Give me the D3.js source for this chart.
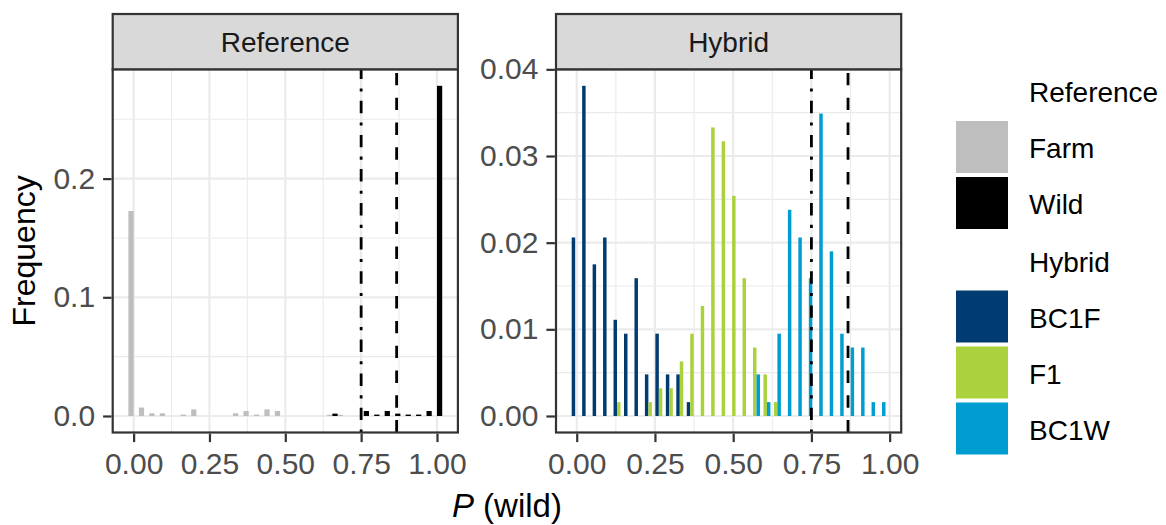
<!DOCTYPE html>
<html>
<head>
<meta charset="utf-8">
<script src="https://cdn.jsdelivr.net/npm/d3@7"></script>
<style>
  html, body { margin: 0; padding: 0; background: #fff; }
  svg { display: block; font-family: "Liberation Sans", Arial, sans-serif; }
</style>
</head>
<body>
<svg id="chart" width="1166" height="525"></svg>
<script>
// ---------------- DATA ----------------
const panels = ["Reference", "Hybrid"];
const xTicks = [0, 0.25, 0.5, 0.75, 1.0];
const xTickLabels = ["0.00", "0.25", "0.50", "0.75", "1.00"];
const refYTicks = [0, 0.1, 0.2];
const refYTickLabels = ["0.0", "0.1", "0.2"];
const hybYTicks = [0, 0.01, 0.02, 0.03, 0.04];
const hybYTickLabels = ["0.00", "0.01", "0.02", "0.03", "0.04"];

// bin centres (P(wild)) for each panel
const refBins = [0.0000, 0.0345, 0.0690, 0.1034, 0.1379, 0.1724, 0.2069, 0.2414, 0.2759, 0.3103,
                 0.3448, 0.3793, 0.4138, 0.4483, 0.4828, 0.5172, 0.5517, 0.5862, 0.6207, 0.6552,
                 0.6897, 0.7241, 0.7586, 0.7931, 0.8276, 0.8621, 0.8966, 0.9310, 0.9655, 1.0000];
const hybBins = [0.0006, 0.0340, 0.0675, 0.1009, 0.1343, 0.1678, 0.2012, 0.2346, 0.2680, 0.3015,
                 0.3349, 0.3683, 0.4018, 0.4352, 0.4686, 0.5021, 0.5355, 0.5689, 0.6023, 0.6358,
                 0.6692, 0.7026, 0.7361, 0.7695, 0.8029, 0.8364, 0.8698, 0.9032, 0.9366, 0.9701];

// Reference series (frequency per bin)
const farmFreq = [0.1727, 0.0071, 0.0023, 0.0023, 0, 0.0012, 0.0056, 0, 0, 0,
                  0.0023, 0.0042, 0.0012, 0.0056, 0.0042, 0, 0, 0, 0, 0.0010,
                  0.0010, 0, 0, 0, 0, 0, 0, 0, 0, 0];
const wildFreq = [0, 0, 0, 0, 0, 0, 0, 0, 0, 0,
                  0, 0, 0, 0, 0, 0, 0, 0, 0, 0.0020,
                  0, 0, 0.0042, 0.0012, 0.0042, 0.0020, 0.0012, 0.0012, 0.0042, 0.2782];
// Hybrid series
const bc1fFreq = [0.0206, 0.0381, 0.0175, 0.0206, 0.0111, 0.0095, 0.0159, 0.0048, 0.0095, 0.0048,
                  0.0048, 0.0016, 0, 0, 0, 0, 0, 0, 0, 0,
                  0, 0, 0, 0, 0, 0, 0, 0, 0, 0];
const f1Freq   = [0, 0, 0, 0, 0.0016, 0, 0, 0.0016, 0.0032, 0.0032,
                  0.0063, 0.0095, 0.0127, 0.0333, 0.0317, 0.0254, 0.0159, 0.0079, 0.0048, 0.0016,
                  0, 0, 0, 0, 0, 0, 0, 0, 0, 0];
const bc1wFreq = [0, 0, 0, 0, 0, 0, 0, 0, 0, 0,
                  0, 0, 0, 0, 0, 0, 0, 0.0048, 0.0016, 0.0095,
                  0.0238, 0.0206, 0.0159, 0.0349, 0.0190, 0.0095, 0.0079, 0.0079, 0.0016, 0.0016];

const refSeries = ["Farm", "Wild"];
const hybSeries = ["BC1F", "F1", "BC1W"];
const seriesColors = { Farm: "#BEBEBE", Wild: "#000000", BC1F: "#003C71", F1: "#ABD13D", BC1W: "#009DD1" };

// threshold lines
const thresholds = [0.75, 0.867];
const thresholdTypes = ["dotdash", "dashed"];

const xTitle = "P";
const yTitle = "Frequency";

// ---------------- LAYOUT ----------------
const svg = d3.select("#chart");
const panelTop = 69.3, panelBottom = 432.5;
const stripTop = 14;
const panelX = [[112.7, 457.9], [556.0, 901.2]];
const FONT_TICK = 30, FONT_STRIP = 28, FONT_TITLE = 32, FONT_LEG = 28;
const LW = 2.2;

const panelDefs = [
  { name: panels[0], bins: refBins, series: refSeries, freqs: [farmFreq, wildFreq],
    yTicks: refYTicks, yLabels: refYTickLabels, yMinor: [0.05, 0.15, 0.25] },
  { name: panels[1], bins: hybBins, series: hybSeries, freqs: [bc1fFreq, f1Freq, bc1wFreq],
    yTicks: hybYTicks, yLabels: hybYTickLabels, yMinor: [0.005, 0.015, 0.025, 0.035] }
];
const xMinor = [0.125, 0.375, 0.625, 0.875];

panelDefs.forEach((p, pi) => {
  const [x0, x1] = panelX[pi];
  const bw = p.bins[1] - p.bins[0];
  const lo = d3.min(p.bins) - bw / 2, hi = d3.max(p.bins) + bw / 2;
  const ex = (hi - lo) * 0.05;
  const x = d3.scaleLinear().domain([lo - ex, hi + ex]).range([x0, x1]);
  const ymax = d3.max(p.freqs.flat());
  const y = d3.scaleLinear().domain([-0.05 * ymax, 1.05 * ymax]).range([panelBottom, panelTop]);

  const g = svg.append("g");
  // background
  g.append("rect").attr("x", x0).attr("y", panelTop).attr("width", x1 - x0)
    .attr("height", panelBottom - panelTop).attr("fill", "#fff");
  // minor grid
  g.selectAll(".gxm").data(xMinor).join("line")
    .attr("x1", d => x(d)).attr("x2", d => x(d)).attr("y1", panelTop).attr("y2", panelBottom)
    .attr("stroke", "#EBEBEB").attr("stroke-width", LW / 2);
  g.selectAll(".gym").data(p.yMinor.filter(v => v < y.domain()[1])).join("line")
    .attr("x1", x0).attr("x2", x1).attr("y1", d => y(d)).attr("y2", d => y(d))
    .attr("stroke", "#EBEBEB").attr("stroke-width", LW / 2);
  // major grid
  g.selectAll(".gx").data(xTicks).join("line")
    .attr("x1", d => x(d)).attr("x2", d => x(d)).attr("y1", panelTop).attr("y2", panelBottom)
    .attr("stroke", "#EBEBEB").attr("stroke-width", LW);
  g.selectAll(".gy").data(p.yTicks).join("line")
    .attr("x1", x0).attr("x2", x1).attr("y1", d => y(d)).attr("y2", d => y(d))
    .attr("stroke", "#EBEBEB").attr("stroke-width", LW);

  // bars (dodged within each bin)
  const n = p.series.length;
  const slot = bw / n;
  const rects = [];
  p.series.forEach((s, si) => {
    p.freqs[si].forEach((v, k) => {
      if (v > 0) rects.push({ s, v, left: p.bins[k] - bw / 2 + si * slot });
    });
  });
  g.selectAll(".bar").data(rects).join("rect")
    .attr("x", d => x(d.left)).attr("width", d => x(d.left + slot) - x(d.left))
    .attr("y", d => y(d.v)).attr("height", d => y(0) - y(d.v))
    .attr("fill", d => seriesColors[d.s]);

  // threshold lines
  const dashes = { dotdash: "3.1,9.3,12.4,9.3", dashed: "12.4,12.4" };
  thresholds.forEach((t, ti) => {
    g.append("line").attr("x1", x(t)).attr("x2", x(t)).attr("y1", panelBottom).attr("y2", panelTop)
      .attr("stroke", "#000").attr("stroke-width", 2.8)
      .attr("stroke-dasharray", dashes[thresholdTypes[ti]]);
  });

  // border
  g.append("rect").attr("x", x0).attr("y", panelTop).attr("width", x1 - x0)
    .attr("height", panelBottom - panelTop).attr("fill", "none")
    .attr("stroke", "#333333").attr("stroke-width", LW);

  // strip
  g.append("rect").attr("x", x0).attr("y", stripTop).attr("width", x1 - x0)
    .attr("height", panelTop - stripTop).attr("fill", "#D9D9D9")
    .attr("stroke", "#333333").attr("stroke-width", LW);
  g.append("text").attr("x", (x0 + x1) / 2).attr("y", (stripTop + panelTop) / 2 + 10)
    .attr("text-anchor", "middle").attr("font-size", FONT_STRIP).attr("fill", "#1A1A1A")
    .text(p.name);

  // axes
  const xa = d3.axisBottom(x).tickValues(xTicks).tickFormat((d, i) => xTickLabels[i])
    .tickSize(8.5).tickPadding(11);
  const gx = svg.append("g").attr("transform", `translate(0,${panelBottom})`).call(xa);
  const ya = d3.axisLeft(y).tickValues(p.yTicks).tickFormat((d, i) => p.yLabels[i])
    .tickSize(8.5).tickPadding(8);
  const gy = svg.append("g").attr("transform", `translate(${x0},0)`).call(ya);
  [gx, gy].forEach(ga => {
    ga.select(".domain").remove();
    ga.selectAll(".tick line").attr("stroke", "#333333").attr("stroke-width", LW);
    ga.selectAll(".tick text").attr("font-size", FONT_TICK).attr("fill", "#4D4D4D")
      .attr("font-family", "Liberation Sans, Arial, sans-serif");
  });
  // nudge panel border ticks to start at border
  gx.attr("transform", `translate(0,${panelBottom + LW / 2})`);
  gy.attr("transform", `translate(${x0 - LW / 2},0)`);
});

// axis titles
const xt = svg.append("text").attr("x", (panelX[0][0] + panelX[1][1]) / 2).attr("y", 516.5)
  .attr("text-anchor", "middle").attr("font-size", 33).attr("fill", "#000");
xt.append("tspan").attr("font-style", "italic").text(xTitle);
xt.append("tspan").text(" (wild)");

svg.append("text").attr("transform", `translate(35,${(panelTop + panelBottom) / 2}) rotate(-90)`)
  .attr("text-anchor", "middle").attr("font-size", FONT_TITLE).attr("fill", "#000").text(yTitle);

// legend
const leg = svg.append("g");
const legendGroups = [
  { title: "Reference", titleY: 102, items: refSeries, keyTop: 121 },
  { title: "Hybrid", titleY: 272, items: hybSeries, keyTop: 290.5 }
];
legendGroups.forEach(lg => {
  leg.append("text").attr("x", 1029).attr("y", lg.titleY).attr("font-size", FONT_LEG)
    .attr("fill", "#000").text(lg.title);
  lg.items.forEach((it, i) => {
    const top = lg.keyTop + i * 56;
    leg.append("rect").attr("x", 956).attr("y", top).attr("width", 52).attr("height", 52)
      .attr("fill", seriesColors[it]);
    leg.append("text").attr("x", 1029).attr("y", top + 26 + 11).attr("font-size", FONT_LEG)
      .attr("fill", "#000").text(it);
  });
});
</script>
</body>
</html>
